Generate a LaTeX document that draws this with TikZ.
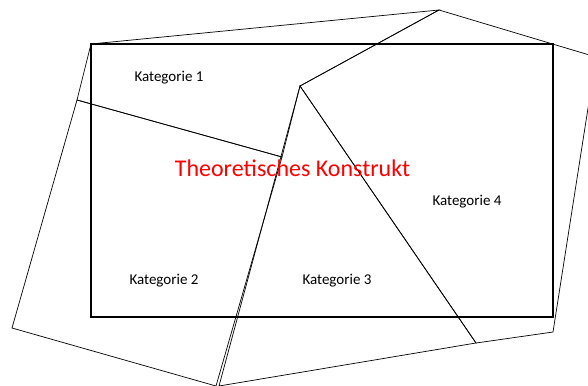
\documentclass[tikz,border=0pt]{standalone}
\usepackage{fontspec}
\setmainfont{Carlito}
\begin{document}
\begin{tikzpicture}[x=1pt,y=-1pt,
  region/.style={draw=black,line width=0.7pt,line join=miter},
  frame/.style={draw=black,line width=1.3pt},
  katlabel/.style={font=\fontsize{15}{18}\selectfont,inner sep=0pt},
  titlelabel/.style={font=\fontsize{24}{28}\selectfont,text=red,inner sep=0pt}]
\useasboundingbox (0,0) rectangle (588,385);
\begin{scope}
\clip (0,0) rectangle (588,385);
% vertices
\coordinate (tl) at (91,44);
\coordinate (top) at (439,10);
\coordinate (rt) at (596,57);
\coordinate (rb) at (553,332);
\coordinate (bm) at (476,343);
\coordinate (b3) at (219,386);
\coordinate (b2) at (216,386);
\coordinate (lb) at (12,328);
\coordinate (lm) at (77,100);
\coordinate (cm) at (282,157);
\coordinate (ap) at (300,86);
% Kategorie 1
\draw[region] (tl) -- (top) -- (ap) -- (cm) -- (lm) -- cycle;
% Kategorie 2
\draw[region] (lm) -- (cm) -- (b2) -- (lb) -- cycle;
% Kategorie 3
\draw[region] (ap) -- (bm) -- (b3) -- cycle;
% Kategorie 4
\draw[region] (ap) -- (top) -- (rt) -- (rb) -- (bm) -- cycle;
\end{scope}
% frame
\draw[frame] (91,44) rectangle (553,317);
% labels
\node[katlabel] (k1) at (169,78) {Kategorie 1};
\node[katlabel] (k2) at (164,281) {Kategorie 2};
\node[katlabel] (k3) at (337,281) {Kategorie 3};
\node[katlabel] (k4) at (467,202) {Kategorie 4};
\node[titlelabel] (tk) at (292.5,168) {Theoretisches Konstrukt};
\end{tikzpicture}
\end{document}
